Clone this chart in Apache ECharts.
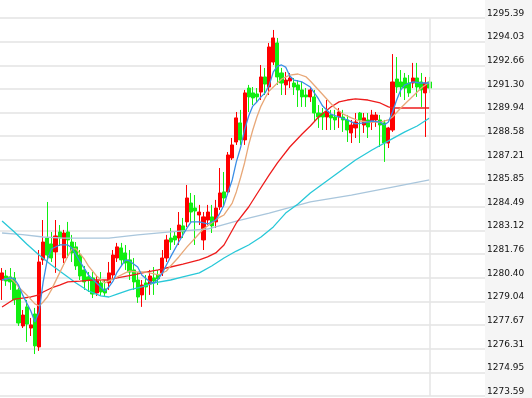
<!DOCTYPE html>
<html>
<head>
<meta charset="utf-8">
<script src="https://cdn.jsdelivr.net/npm/echarts@6/dist/echarts.min.js"></script>
<style>
  html, body { margin: 0; padding: 0; background: #fff; }
  #chart { width: 532px; height: 398px; }
</style>
</head>
<body>
<div id="chart"></div>
<script>
// y axis tick labels, bottom to top
const yLabels = ['1273.59', '1274.95', '1276.31', '1277.67', '1279.04', '1280.40', '1281.76', '1283.12',
  '1284.49', '1285.85', '1287.21', '1288.58', '1289.94', '1291.30', '1292.66', '1294.03', '1295.39'];
const yMin = 1273.59;
const yMax = 1295.39;
const yStep = 1.3625;

// time slots (105 filled + empty room on the right)
const slotCount = 118;
const categories = Array.from({ length: slotCount }, (_, i) => String(i));

// [open, close, low, high]
const candles = [
  [1280.28, 1280.69, 1279.13, 1280.97],
  [1280.51, 1280.22, 1279.94, 1280.86],
  [1280.46, 1280.17, 1279.71, 1280.97],
  [1280.40, 1279.13, 1278.84, 1280.74],
  [1279.71, 1277.80, 1277.63, 1279.99],
  [1277.63, 1278.26, 1277.51, 1278.55],
  [1278.73, 1277.74, 1276.71, 1279.13],
  [1277.51, 1277.69, 1277.05, 1278.09],
  [1278.32, 1276.48, 1276.01, 1278.67],
  [1276.42, 1281.32, 1276.19, 1282.01],
  [1281.44, 1282.47, 1281.15, 1283.74],
  [1282.70, 1281.72, 1281.44, 1284.78],
  [1282.36, 1281.55, 1281.32, 1283.05],
  [1281.90, 1282.82, 1280.69, 1283.74],
  [1283.05, 1282.70, 1282.24, 1283.45],
  [1281.55, 1282.99, 1281.26, 1283.17],
  [1283.05, 1282.59, 1281.55, 1283.63],
  [1282.47, 1281.84, 1281.32, 1282.88],
  [1282.19, 1281.09, 1280.86, 1282.47],
  [1281.72, 1280.51, 1280.28, 1282.01],
  [1280.86, 1280.17, 1279.71, 1281.09],
  [1280.46, 1280.28, 1279.59, 1280.74],
  [1280.40, 1279.47, 1279.24, 1280.74],
  [1279.53, 1280.22, 1279.36, 1280.51],
  [1280.11, 1279.59, 1279.36, 1280.74],
  [1279.76, 1279.53, 1279.36, 1280.28],
  [1280.11, 1280.69, 1279.71, 1281.32],
  [1280.57, 1281.72, 1280.28, 1282.01],
  [1281.55, 1282.19, 1281.32, 1282.42],
  [1282.13, 1281.44, 1281.15, 1282.42],
  [1281.84, 1281.26, 1280.86, 1282.30],
  [1281.44, 1280.74, 1280.28, 1282.01],
  [1280.86, 1280.17, 1279.71, 1281.55],
  [1280.28, 1279.30, 1278.96, 1280.74],
  [1279.42, 1279.99, 1278.73, 1280.28],
  [1280.11, 1279.88, 1279.13, 1280.57],
  [1280.05, 1280.51, 1279.42, 1280.86],
  [1280.40, 1280.22, 1279.42, 1281.03],
  [1280.57, 1280.34, 1279.99, 1280.86],
  [1280.69, 1281.55, 1280.51, 1282.01],
  [1281.55, 1282.59, 1281.32, 1282.88],
  [1282.70, 1282.47, 1282.01, 1283.28],
  [1282.82, 1282.59, 1282.30, 1283.05],
  [1282.70, 1283.45, 1282.30, 1284.20],
  [1283.40, 1283.05, 1282.70, 1283.86],
  [1283.63, 1285.01, 1283.34, 1285.76],
  [1284.72, 1284.20, 1283.63, 1285.30],
  [1284.43, 1284.26, 1282.30, 1285.18],
  [1284.03, 1284.20, 1283.45, 1284.61],
  [1282.59, 1283.92, 1282.01, 1284.20],
  [1283.74, 1284.20, 1283.45, 1284.61],
  [1283.92, 1283.40, 1282.99, 1284.61],
  [1283.63, 1284.43, 1283.28, 1284.90],
  [1284.49, 1285.30, 1284.32, 1286.74],
  [1285.36, 1285.01, 1284.49, 1286.51],
  [1285.36, 1287.49, 1285.18, 1287.66],
  [1287.32, 1288.07, 1287.20, 1288.47],
  [1288.24, 1289.63, 1288.07, 1289.97],
  [1289.34, 1288.36, 1288.07, 1290.09],
  [1288.36, 1291.07, 1288.07, 1291.24],
  [1291.35, 1290.84, 1289.97, 1291.53],
  [1291.07, 1290.78, 1290.37, 1291.41],
  [1291.01, 1290.84, 1290.49, 1291.35],
  [1291.12, 1291.99, 1290.66, 1292.68],
  [1291.99, 1291.58, 1290.95, 1292.51],
  [1291.41, 1293.72, 1290.95, 1293.95],
  [1292.85, 1294.24, 1292.68, 1294.70],
  [1293.95, 1291.99, 1291.53, 1294.24],
  [1292.22, 1291.64, 1290.95, 1292.51],
  [1291.53, 1291.81, 1290.95, 1292.28],
  [1291.76, 1291.93, 1291.35, 1292.22],
  [1291.64, 1291.41, 1290.95, 1291.93],
  [1291.53, 1291.24, 1290.26, 1291.81],
  [1291.24, 1290.84, 1290.26, 1291.70],
  [1290.95, 1290.84, 1290.26, 1291.35],
  [1290.84, 1291.24, 1290.55, 1291.41],
  [1290.84, 1289.91, 1289.39, 1291.24],
  [1289.91, 1289.68, 1289.05, 1290.37],
  [1289.91, 1289.68, 1288.93, 1290.20],
  [1289.68, 1289.97, 1288.93, 1290.66],
  [1289.80, 1289.63, 1288.93, 1290.09],
  [1289.68, 1289.51, 1288.93, 1290.09],
  [1289.68, 1289.97, 1289.05, 1290.20],
  [1289.68, 1289.51, 1288.82, 1290.09],
  [1289.51, 1288.93, 1288.24, 1289.80],
  [1288.76, 1289.22, 1288.18, 1289.51],
  [1289.05, 1289.39, 1288.47, 1289.91],
  [1289.91, 1289.51, 1288.18, 1289.97],
  [1289.22, 1289.63, 1288.76, 1289.91],
  [1289.51, 1289.11, 1288.47, 1289.91],
  [1289.39, 1289.80, 1288.93, 1290.09],
  [1289.51, 1289.80, 1289.11, 1289.97],
  [1289.51, 1289.22, 1287.95, 1289.80],
  [1289.34, 1288.18, 1287.09, 1289.51],
  [1288.18, 1289.05, 1287.89, 1289.11],
  [1288.93, 1291.70, 1288.82, 1293.31],
  [1291.87, 1291.41, 1291.07, 1293.14],
  [1291.70, 1291.41, 1290.84, 1292.39],
  [1291.93, 1291.35, 1290.66, 1292.22],
  [1291.64, 1291.07, 1290.84, 1292.10],
  [1291.64, 1291.93, 1291.35, 1292.80],
  [1291.93, 1291.41, 1290.84, 1292.80],
  [1291.70, 1291.24, 1290.26, 1292.22],
  [1291.07, 1291.64, 1288.53, 1291.99],
  [1291.70, 1291.35, 1291.07, 1291.99]
];

// moving average lines, [slot, value]
const ma5 = [[0, 1280.28], [2, 1280.40], [3, 1280.34], [4, 1279.99], [5, 1279.42], [7, 1278.49], [8, 1277.86],
  [9, 1278.43], [10, 1280.17], [11, 1281.44], [12, 1282.07], [14, 1282.30], [16, 1282.30], [17, 1282.13],
  [18, 1281.72], [19, 1281.32], [21, 1280.57], [23, 1280.11], [25, 1279.65], [26, 1279.88], [27, 1280.22],
  [28, 1280.74], [30, 1281.44], [31, 1281.38], [33, 1281.03], [34, 1280.57], [36, 1280.17], [37, 1280.11],
  [38, 1280.34], [39, 1280.69], [41, 1281.61], [43, 1282.47], [45, 1283.28], [46, 1283.63], [48, 1283.63],
  [50, 1283.51], [52, 1283.74], [53, 1284.14], [54, 1284.61], [55, 1285.36], [56, 1286.05], [57, 1287.09],
  [58, 1287.89], [59, 1288.93], [60, 1289.74], [61, 1290.31], [62, 1290.55], [63, 1290.84], [64, 1291.07],
  [65, 1291.53], [66, 1292.28], [67, 1292.62], [68, 1292.68], [69, 1292.56], [70, 1292.04], [71, 1291.81],
  [73, 1291.70], [75, 1291.41], [77, 1290.72], [78, 1290.31], [80, 1289.85], [82, 1289.68], [84, 1289.51],
  [86, 1289.28], [88, 1289.34], [90, 1289.45], [92, 1289.39], [93, 1289.22], [94, 1289.39], [95, 1289.97],
  [96, 1290.66], [97, 1291.24], [98, 1291.53], [100, 1291.70], [102, 1291.64], [104, 1291.64]];

const ma10 = [[0, 1280.28], [2, 1280.40], [3, 1280.17], [4, 1279.88], [6, 1279.42], [8, 1278.90], [9, 1278.78],
  [10, 1279.01], [11, 1279.30], [12, 1279.71], [14, 1280.69], [16, 1281.66], [17, 1282.07], [18, 1282.07],
  [20, 1281.49], [21, 1281.09], [23, 1280.51], [25, 1280.11], [27, 1280.34], [30, 1280.69], [31, 1280.80],
  [33, 1280.74], [35, 1280.74], [37, 1280.63], [38, 1280.57], [40, 1280.80], [41, 1281.09], [43, 1281.61],
  [45, 1282.19], [47, 1282.70], [49, 1283.22], [51, 1283.57], [52, 1283.74], [53, 1283.91], [54, 1284.03],
  [56, 1284.72], [57, 1285.36], [58, 1286.16], [59, 1287.03], [60, 1288.07], [61, 1288.93], [62, 1289.68],
  [63, 1290.31], [64, 1290.78], [65, 1291.18], [67, 1291.64], [68, 1291.87], [70, 1292.10], [72, 1292.16],
  [74, 1291.99], [75, 1291.76], [77, 1291.24], [79, 1290.72], [81, 1290.20], [83, 1289.85], [85, 1289.63],
  [87, 1289.45], [90, 1289.39], [92, 1289.39], [94, 1289.51], [95, 1289.68], [97, 1290.20], [99, 1290.66],
  [101, 1291.12], [102, 1291.35], [104, 1291.70]];

const ma20 = [[0, 1278.72], [3, 1279.18], [5, 1279.24], [7, 1279.30], [9, 1279.42], [10, 1279.59], [12, 1279.82],
  [14, 1279.99], [16, 1280.17], [19, 1280.22], [22, 1280.28], [26, 1280.28], [28, 1280.40], [32, 1280.57],
  [35, 1280.74], [38, 1280.86], [41, 1281.03], [44, 1281.20], [48, 1281.44], [50, 1281.61], [52, 1281.84],
  [54, 1282.30], [57, 1283.57], [60, 1284.49], [62, 1285.24], [65, 1286.34], [67, 1287.03], [70, 1287.95],
  [73, 1288.70], [75, 1289.16], [77, 1289.68], [80, 1290.26], [82, 1290.55], [84, 1290.66], [86, 1290.72],
  [89, 1290.66], [92, 1290.49], [94, 1290.26], [95, 1290.20], [104, 1290.20]];

const ma40 = [[0, 1283.68], [3, 1283.05], [6, 1282.36], [9, 1281.72], [12, 1281.15], [15, 1280.63], [18, 1280.11],
  [21, 1279.65], [24, 1279.36], [26, 1279.30], [28, 1279.47], [31, 1279.71], [34, 1279.88], [37, 1280.11],
  [41, 1280.28], [44, 1280.46], [48, 1280.69], [51, 1281.09], [54, 1281.55], [57, 1281.95], [60, 1282.30],
  [63, 1282.76], [66, 1283.34], [69, 1284.14], [72, 1284.66], [75, 1285.30], [78, 1285.82], [82, 1286.51],
  [86, 1287.20], [90, 1287.78], [94, 1288.30], [98, 1288.82], [101, 1289.16], [104, 1289.62]];

const ma60 = [[0, 1282.99], [5, 1282.90], [10, 1282.76], [15, 1282.70], [20, 1282.70], [26, 1282.70],
  [33, 1282.88], [41, 1283.05], [50, 1283.22], [57, 1283.68], [65, 1284.14], [75, 1284.78], [85, 1285.18],
  [95, 1285.64], [104, 1286.05]];

const lastSlot = 104;

function maLine(name, data, color) {
  return {
    name: name,
    type: 'line',
    data: data,
    symbol: 'none',
    smooth: false,
    silent: true,
    lineStyle: { color: color, width: 1.3 },
    z: 3
  };
}

const chart = echarts.init(document.getElementById('chart'));
chart.setOption({
  animation: false,
  backgroundColor: '#fff',
  graphic: [{
    type: 'rect',
    right: 0,
    top: 0,
    z: -10,
    shape: { width: 47, height: 398 },
    style: { fill: '#f5f5f5' }
  }],
  grid: { left: 0, right: 47, top: 18, bottom: 2 },
  xAxis: {
    type: 'category',
    data: categories,
    boundaryGap: true,
    axisLine: { show: false },
    axisTick: { show: false },
    axisLabel: { show: false },
    splitLine: { show: false }
  },
  yAxis: {
    type: 'value',
    position: 'right',
    min: yMin,
    max: yMax,
    interval: yStep,
    axisLine: { show: false },
    axisTick: { show: false },
    axisLabel: {
      margin: 2,
      align: 'left',
      verticalAlign: 'bottom',
      color: '#111',
      fontFamily: 'DejaVu Sans',
      fontSize: 9,
      formatter: function (v) {
        return yLabels[Math.round((v - yMin) / yStep)];
      }
    },
    splitLine: { lineStyle: { color: '#eaeaea', width: 2 } }
  },
  series: [
    {
      name: 'K',
      type: 'candlestick',
      data: candles,
      barWidth: 3.6,
      silent: true,
      itemStyle: {
        color: '#ff0000',
        color0: '#11ee11',
        borderColor: '#ff0000',
        borderColor0: '#11ee11',
        borderWidth: 1
      },
      markLine: {
        silent: true,
        symbol: 'none',
        label: { show: false },
        lineStyle: { color: '#e4e4e4', width: 1.5, type: 'solid' },
        data: [{ xAxis: lastSlot }]
      },
      z: 2
    },
    maLine('MA60', ma60, '#a9c6dc'),
    maLine('MA40', ma40, '#28c8d8'),
    maLine('MA20', ma20, '#ee1c1c'),
    maLine('MA10', ma10, '#e8a878'),
    maLine('MA5', ma5, '#3a8ee6')
  ]
});
window.addEventListener('resize', () => {
  chart.resize();
});
</script>
</body>
</html>
